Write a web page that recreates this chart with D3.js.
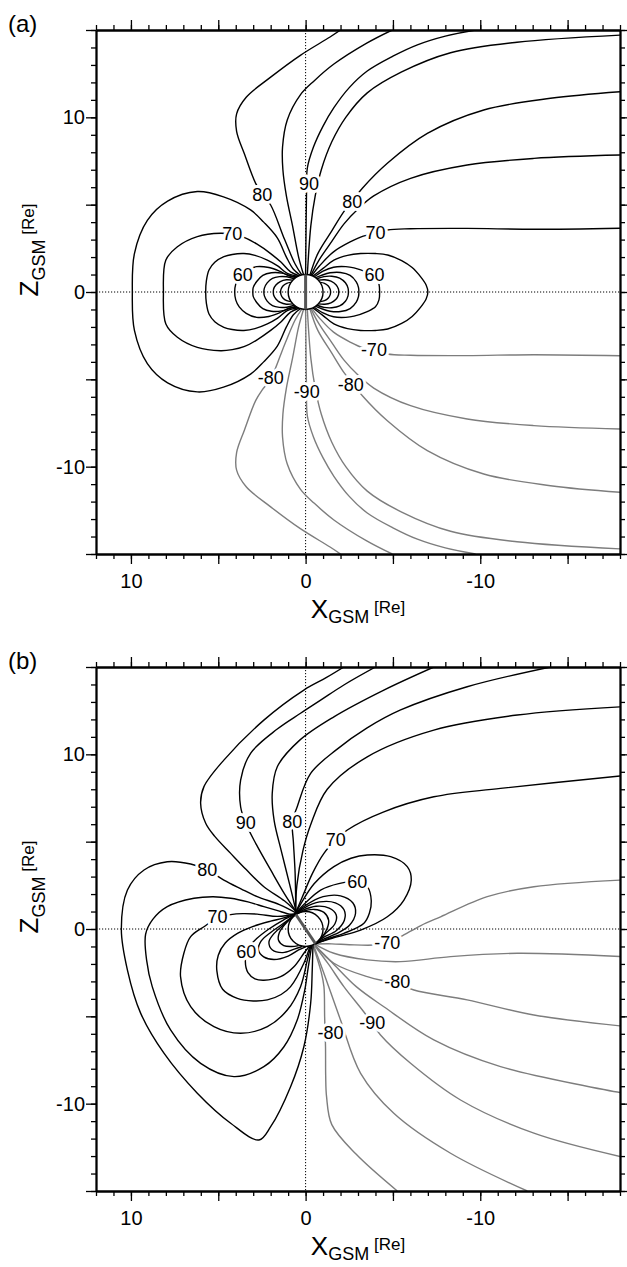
<!DOCTYPE html>
<html><head><meta charset="utf-8">
<script src="https://cdn.jsdelivr.net/npm/d3@7"></script>
<style>
body{margin:0;background:#fff;}
svg{display:block;font-family:"Liberation Sans",Arial,Helvetica,sans-serif;}
</style></head><body>
<svg id="chart" width="627" height="1267"></svg>
<script>
// ---------- axes / tick data ----------
const xDomain = [12, -18];
const zDomain = [15, -15];
const xTickLabels = [10, 0, -10];
const zTickLabels = [10, 0, -10];
const majorX = [-15, -10, -5, 0, 5, 10];
const majorZ = [-15, -10, -5, 0, 5, 10, 15];
const panelNames = ["(a)", "(b)"];

// ---------- panel (a): closed field lines (black) ----------
const aClosedDay = [
 [[0.3,0.96],[0.7,1.3],[1.1,2.0],[1.62,3.1],[2.4,4.0],[3.15,4.7],[4.7,5.45],[6.2,5.75],[7.9,5.2],[9.06,4.1],[9.8,2.2],[9.92,0],[9.8,-2.2],[9.06,-4.1],[7.9,-5.2],[6.2,-5.72],[4.7,-5.45],[3.15,-4.7],[2.4,-4.0],[1.62,-3.1],[1.1,-2.0],[0.7,-1.3],[0.3,-0.96]],
 [[0.38,0.93],[0.86,1.15],[1.4,1.7],[2.0,2.2],[2.8,2.75],[3.53,3.13],[4.2,3.3],[4.87,3.36],[6.2,3.17],[7.34,2.59],[8.0,1.83],[8.14,0],[8.0,-1.83],[7.34,-2.59],[6.2,-3.17],[4.87,-3.36],[4.2,-3.3],[3.53,-3.13],[2.8,-2.75],[2.0,-2.2],[1.4,-1.7],[0.86,-1.15],[0.38,-0.93]],
 [[0.44,0.9],[1.05,1.07],[1.6,1.5],[2.19,1.83],[2.9,2.1],[3.53,2.2],[4.2,2.15],[4.68,2.02],[5.2,1.7],[5.53,1.26],[5.68,0.65],[5.72,0],[5.68,-0.65],[5.53,-1.26],[5.2,-1.7],[4.68,-2.02],[4.2,-2.15],[3.53,-2.2],[2.9,-2.1],[2.19,-1.83],[1.6,-1.5],[1.05,-1.07],[0.44,-0.9]],
 [[0.5,0.87],[0.95,0.93],[1.5,1.2],[2.1,1.4],[2.8,1.45],[3.4,1.22],[3.8,0.85],[4.0,0.45],[4.06,0],[4.0,-0.45],[3.8,-0.85],[3.4,-1.22],[2.8,-1.45],[2.1,-1.4],[1.5,-1.2],[0.95,-0.93],[0.5,-0.87]],
 [[0.58,0.82],[0.9,0.93],[1.36,1.08],[1.96,1.1],[2.45,0.95],[2.8,0.6],[3.0,0.25],[3.02,0],[3.0,-0.25],[2.8,-0.6],[2.45,-0.95],[1.96,-1.1],[1.36,-1.08],[0.9,-0.93],[0.58,-0.82]],
 [[0.65,0.76],[1.07,0.87],[1.5,0.88],[1.9,0.78],[2.2,0.52],[2.36,0.22],[2.39,0],[2.36,-0.22],[2.2,-0.52],[1.9,-0.78],[1.5,-0.88],[1.07,-0.87],[0.65,-0.76]],
 [[0.73,0.68],[1.1,0.7],[1.45,0.6],[1.7,0.4],[1.83,0.17],[1.85,0],[1.83,-0.17],[1.7,-0.4],[1.45,-0.6],[1.1,-0.7],[0.73,-0.68]],
 [[0.84,0.55],[1.08,0.5],[1.3,0.34],[1.41,0.15],[1.43,0],[1.41,-0.15],[1.3,-0.34],[1.08,-0.5],[0.84,-0.55]]
];
const aClosedNight = [
 [[-0.42,0.91],[-1.0,1.35],[-1.62,1.83],[-2.4,2.1],[-3.15,2.2],[-4.0,2.2],[-4.7,2.12],[-5.5,1.8],[-6.1,1.4],[-6.6,0.85],[-6.9,0.4],[-7.0,0],[-6.9,-0.4],[-6.6,-0.85],[-6.1,-1.4],[-5.5,-1.8],[-4.7,-2.12],[-4.0,-2.2],[-3.15,-2.2],[-2.4,-2.1],[-1.62,-1.83],[-1.0,-1.35],[-0.42,-0.91]],
 [[-0.5,0.87],[-1.0,1.2],[-1.6,1.42],[-2.3,1.45],[-2.77,1.38],[-3.53,1.12],[-4.0,0.85],[-4.2,0.45],[-4.24,0],[-4.2,-0.45],[-4.0,-0.85],[-3.53,-1.12],[-2.77,-1.38],[-2.3,-1.45],[-1.6,-1.42],[-1.0,-1.2],[-0.5,-0.87]],
 [[-0.58,0.82],[-0.9,0.95],[-1.4,1.1],[-2.0,1.12],[-2.55,0.95],[-2.9,0.58],[-3.03,0.25],[-3.05,0],[-3.03,-0.25],[-2.9,-0.58],[-2.55,-0.95],[-2.0,-1.12],[-1.4,-1.1],[-0.9,-0.95],[-0.58,-0.82]],
 [[-0.65,0.76],[-1.05,0.88],[-1.5,0.9],[-1.95,0.8],[-2.28,0.53],[-2.43,0.22],[-2.45,0],[-2.43,-0.22],[-2.28,-0.53],[-1.95,-0.8],[-1.5,-0.9],[-1.05,-0.88],[-0.65,-0.76]],
 [[-0.73,0.68],[-1.1,0.7],[-1.45,0.62],[-1.74,0.42],[-1.88,0.17],[-1.9,0],[-1.88,-0.17],[-1.74,-0.42],[-1.45,-0.62],[-1.1,-0.7],[-0.73,-0.68]],
 [[-0.84,0.55],[-1.08,0.5],[-1.3,0.34],[-1.41,0.15],[-1.43,0],[-1.41,-0.15],[-1.3,-0.34],[-1.08,-0.5],[-0.84,-0.55]]
];
// panel (a): open lines, northern (black)
const aOpenNorth = [
 [[0.22,0.98],[0.6,1.6],[1.2,3.0],[2.0,4.98],[2.48,5.6],[2.86,6.22],[3.5,7.9],[3.95,9.2],[3.95,10.2],[3.4,11.15],[2.0,12.3],[0.3,13.55],[-1.4,14.6],[-2.0,15.0]],
 [[0.12,1.0],[0.4,2.0],[0.75,3.8],[1.1,5.5],[1.3,7.0],[1.32,8.3],[1.05,9.85],[0.29,11.3],[-0.5,12.1],[-1.62,13.05],[-3.5,14.25],[-4.96,15.0]],
 [[0.0,1.0],[-0.02,3.0],[-0.05,5.5],[-0.1,7.1],[-0.45,8.3],[-1.0,9.5],[-1.62,10.55],[-2.5,11.7],[-3.53,12.65],[-5.0,13.5],[-6.4,14.15],[-8.0,14.65],[-9.73,15.0]],
 [[-0.1,1.0],[-0.3,3.8],[-0.55,5.5],[-0.9,7.0],[-1.5,8.6],[-2.3,10.0],[-3.53,11.4],[-5.5,12.6],[-8.3,13.7],[-12.1,14.3],[-18.03,14.71]],
 [[-0.25,0.97],[-0.7,2.2],[-1.5,3.5],[-2.19,4.6],[-2.67,5.2],[-3.25,5.94],[-4.68,7.37],[-6.97,9.08],[-10.2,10.42],[-14.02,11.09],[-18.03,11.47]],
 [[-0.3,0.95],[-0.75,1.8],[-1.5,2.9],[-2.2,3.9],[-3.0,4.75],[-3.9,5.5],[-6.01,6.51],[-9.25,7.27],[-13.07,7.65],[-18.03,7.84]],
 [[-0.35,0.94],[-0.8,1.5],[-1.6,2.3],[-2.58,2.88],[-3.3,3.2],[-4.0,3.36],[-4.68,3.55],[-6.0,3.62],[-9.25,3.64],[-13.07,3.59],[-18.03,3.65]]
];
// panel (a): open lines, southern (grey)
const aOpenSouth = [
 [[0.22,-0.98],[0.6,-1.6],[1.2,-3.0],[2.0,-4.98],[2.48,-5.6],[2.86,-6.22],[3.5,-7.9],[3.95,-9.2],[3.95,-10.2],[3.4,-11.15],[2.0,-12.3],[0.3,-13.55],[-1.4,-14.6],[-2.0,-15.0]],
 [[0.12,-1.0],[0.4,-2.0],[0.75,-3.8],[1.1,-5.5],[1.3,-7.0],[1.32,-8.3],[1.05,-9.85],[0.29,-11.3],[-0.5,-12.1],[-1.62,-13.05],[-3.5,-14.25],[-4.96,-15.0]],
 [[0.0,-1.0],[-0.02,-3.0],[-0.05,-5.5],[-0.1,-7.1],[-0.45,-8.3],[-1.0,-9.5],[-1.62,-10.55],[-2.5,-11.7],[-3.53,-12.65],[-5.0,-13.5],[-6.4,-14.15],[-8.0,-14.65],[-9.73,-15.0]],
 [[-0.1,-1.0],[-0.3,-3.8],[-0.55,-5.5],[-0.9,-7.0],[-1.5,-8.6],[-2.3,-10.0],[-3.53,-11.4],[-5.5,-12.6],[-8.3,-13.7],[-12.1,-14.3],[-18.03,-14.71]],
 [[-0.25,-0.97],[-0.7,-2.2],[-1.5,-3.5],[-2.19,-4.6],[-2.67,-5.2],[-3.25,-5.94],[-4.68,-7.37],[-6.97,-9.08],[-10.2,-10.42],[-14.02,-11.09],[-18.03,-11.47]],
 [[-0.3,-0.95],[-0.75,-1.8],[-1.5,-2.9],[-2.2,-3.9],[-3.0,-4.75],[-3.9,-5.5],[-6.01,-6.51],[-9.25,-7.27],[-13.07,-7.65],[-18.03,-7.84]],
 [[-0.35,-0.94],[-0.8,-1.5],[-1.6,-2.3],[-2.58,-2.88],[-3.3,-3.2],[-4.0,-3.36],[-4.68,-3.55],[-6.0,-3.62],[-9.25,-3.64],[-13.07,-3.59],[-18.03,-3.65]]
];
const aLabels = [["80",2.48,5.55],["90",-0.2,6.2],["80",-2.67,5.17],["70",4.2,3.3],["70",-4.0,3.36],["60",3.6,0.97],["60",-3.95,0.95],["-80",2.0,-4.94],["-90",-0.06,-5.7],["-80",-2.58,-5.32],["-70",-3.91,-3.32]];
const aDipoleAxis = [[0,1],[0,-1]];

// ---------- panel (b) ----------
const bClosedDay = [
 [[0.5,0.9],[1.5,1.4],[2.77,1.85],[3.7,2.3],[4.68,2.8],[5.63,3.38],[6.58,3.72],[7.92,3.85],[9.25,3.38],[10.2,2.23],[10.55,0.0],[10.2,-2.35],[9.44,-4.83],[8.11,-7.11],[6.2,-9.4],[4.29,-11.12],[2.67,-12.08],[2.0,-11.32],[0.86,-9.03],[0.1,-6.74],[-0.29,-4.25],[-0.38,-2.35],[-0.42,-0.92]],
 [[0.52,0.88],[0.9,0.85],[1.6,1.05],[2.39,1.28],[3.3,1.55],[4.29,1.76],[5.3,1.85],[6.39,1.76],[7.92,1.28],[8.75,0.55],[9.16,-0.3],[9.1,-1.8],[8.78,-3.3],[7.73,-5.78],[6.01,-7.69],[4.1,-8.45],[2.39,-7.88],[1.24,-6.74],[0.48,-5.21],[0.05,-3.5],[-0.15,-2.2],[-0.35,-0.95]],
 [[0.55,0.87],[1.0,0.78],[1.62,0.72],[2.77,0.85],[3.6,0.88],[4.29,0.82],[5.05,0.62],[5.82,0.13],[6.58,-0.44],[6.97,-1.39],[7.16,-2.73],[6.58,-4.45],[5.25,-5.59],[3.72,-5.97],[2.19,-5.59],[1.05,-4.64],[0.29,-3.3],[-0.1,-1.77],[-0.3,-0.97]],
 [[0.57,0.86],[1.3,0.62],[2.0,0.45],[3.0,0.15],[3.9,-0.25],[4.6,-0.8],[5.0,-1.5],[5.08,-2.4],[4.75,-3.45],[3.91,-3.97],[3.0,-4.12],[2.19,-4.06],[1.4,-3.75],[0.86,-3.3],[0.1,-1.96],[-0.25,-0.98]],
 [[0.58,0.85],[1.3,0.5],[2.1,0.0],[2.8,-0.55],[3.3,-1.1],[3.45,-1.85],[3.3,-2.5],[2.9,-2.85],[2.39,-2.93],[1.43,-2.73],[0.67,-2.16],[0.1,-1.39],[-0.2,-1.0]],
 [[0.6,0.83],[1.3,0.3],[2.0,-0.2],[2.55,-0.7],[2.7,-1.2],[2.4,-1.6],[1.81,-1.75],[1.0,-1.55],[0.4,-1.2],[0.0,-1.02]],
 [[0.62,0.81],[1.25,0.25],[1.8,-0.25],[2.1,-0.75],[1.9,-1.2],[1.3,-1.35],[0.65,-1.15],[0.2,-1.0]],
 [[0.65,0.79],[1.15,0.3],[1.5,-0.2],[1.55,-0.65],[1.25,-0.95],[0.8,-1.0],[0.4,-0.95]]
];
const bClosedNight = [
 [[0.6,0.85],[0.3,1.4],[-0.5,2.6],[-1.62,3.57],[-2.6,4.05],[-3.53,4.24],[-4.87,4.14],[-5.82,3.57],[-6.05,2.8],[-5.63,1.66],[-4.68,0.7],[-3.15,-0.06],[-1.8,-0.45],[-0.9,-0.72],[-0.55,-0.86]],
 [[0.62,0.84],[0.0,1.5],[-0.86,2.23],[-1.9,2.6],[-2.96,2.71],[-3.55,2.4],[-3.76,1.6],[-3.65,0.9],[-3.34,0.33],[-2.19,-0.25],[-1.3,-0.55],[-0.57,-0.85]],
 [[0.63,0.83],[0.0,1.35],[-1.0,1.85],[-2.0,1.9],[-2.7,1.5],[-2.86,0.9],[-2.5,0.2],[-1.7,-0.3],[-1.0,-0.6],[-0.58,-0.84]],
 [[0.64,0.81],[0.1,1.2],[-0.8,1.55],[-1.7,1.5],[-2.2,1.1],[-2.22,0.5],[-1.75,-0.1],[-1.0,-0.5],[-0.6,-0.82]],
 [[0.65,0.8],[0.15,1.08],[-0.6,1.3],[-1.35,1.2],[-1.75,0.82],[-1.68,0.3],[-1.15,-0.25],[-0.62,-0.8]],
 [[0.66,0.78],[0.2,1.0],[-0.5,1.12],[-1.05,0.95],[-1.32,0.5],[-1.22,0.0],[-0.92,-0.5],[-0.65,-0.78]]
];
const bOpenNorth = [
 [[0.45,0.9],[1.2,1.6],[2.39,2.42],[3.4,3.4],[4.29,4.33],[5.2,5.3],[5.72,6.05],[6.01,7.2],[5.82,8.15],[4.68,9.67],[2.39,11.96],[0.1,13.68],[-1.2,14.4],[-2.19,15.0]],
 [[0.48,0.9],[1.2,2.0],[2.0,3.38],[2.8,4.8],[3.43,6.05],[3.72,7.0],[3.72,8.53],[3.15,10.06],[1.62,11.45],[0.29,12.35],[-0.86,13.1],[-2.19,13.97],[-4.0,15.0]],
 [[0.52,0.9],[0.9,2.5],[1.4,4.5],[1.8,6.2],[1.91,7.77],[1.62,9.29],[0.35,10.8],[-1.62,12.15],[-4.48,13.68],[-7.34,15.0]],
 [[0.56,0.88],[0.6,3.2],[0.7,5.0],[0.76,6.14],[0.48,7.0],[-0.29,8.91],[-1.81,10.3],[-3.5,11.5],[-5.44,12.54],[-9.25,13.87],[-14.02,15.0]],
 [[0.58,0.87],[0.5,2.5],[0.15,4.5],[-0.3,6.0],[-1.24,8.0],[-3.53,9.86],[-7.34,11.39],[-12.12,12.25],[-18.03,12.72]],
 [[0.6,0.86],[0.2,1.8],[-0.4,3.2],[-1.05,4.33],[-1.72,5.09],[-2.39,5.67],[-4.48,6.71],[-7.34,7.57],[-11.16,8.05],[-18.03,8.76]]
];
const bOpenSouth = [
 [[-0.55,-0.86],[-1.5,-0.85],[-2.5,-0.9],[-3.9,-0.92],[-4.68,-0.8],[-5.44,-0.44],[-6.6,0.2],[-7.73,0.7],[-10.4,1.85],[-13.07,2.42],[-18.03,2.8]],
 [[-0.55,-0.88],[-1.62,-1.39],[-3.53,-1.77],[-5.44,-1.87],[-8.3,-1.58],[-12.12,-1.39],[-18.03,-1.58]],
 [[-0.52,-0.9],[-1.62,-1.96],[-3.53,-2.73],[-4.5,-2.97],[-5.25,-3.1],[-6.2,-3.49],[-9.25,-4.06],[-13.07,-4.92],[-18.03,-5.55]],
 [[-0.5,-0.9],[-1.5,-1.9],[-2.9,-3.3],[-4.48,-4.45],[-7.34,-6.35],[-11.16,-7.88],[-18.03,-9.37]],
 [[-0.48,-0.9],[-1.3,-2.0],[-2.19,-3.3],[-3.25,-4.64],[-3.82,-5.4],[-4.29,-6.07],[-6.01,-7.69],[-8.87,-9.79],[-13.07,-11.69],[-18.03,-13.03]],
 [[-0.45,-0.92],[-1.0,-2.4],[-2.0,-5.21],[-3.15,-8.26],[-5.05,-10.55],[-8.3,-12.84],[-12.69,-15.0]],
 [[-0.42,-0.93],[-0.9,-2.5],[-1.05,-3.3],[-1.09,-5.02],[-1.14,-6.74],[-1.15,-8.4],[-1.2,-9.6],[-1.5,-11.2],[-2.9,-12.9],[-5.25,-15.0]]
];
const bLabels = [["90",3.43,6.05],["80",0.76,6.14],["70",-1.72,5.09],["60",-2.96,2.71],["80",5.63,3.38],["70",5.05,0.67],["60",3.4,-1.3],["-70",-4.68,-0.82],["-80",-5.25,-3.05],["-90",-3.82,-5.4],["-80",-1.43,-5.93]];
const bDipoleAxis = [[0.56,0.83],[-0.56,-0.83]];

// ---------- drawing ----------
const svg = d3.select("#chart");
const LEFT = 96, RIGHT = 620, SIZE = 524;
const BLACK = "#000", GREY = "#7d7d7d";

function drawPanel(idx, top, closed, openN, openS, labels, dipoleAxis) {
  const x = d3.scaleLinear().domain(xDomain).range([LEFT, RIGHT]);
  const z = d3.scaleLinear().domain(zDomain).range([top, top + SIZE]);
  const clipId = "clip" + idx;
  svg.append("clipPath").attr("id", clipId).append("rect")
    .attr("x", LEFT).attr("y", top).attr("width", SIZE).attr("height", SIZE);
  const plot = svg.append("g").attr("clip-path", `url(#${clipId})`);

  // dotted zero lines
  plot.append("line").attr("x1", x(0)).attr("x2", x(0)).attr("y1", top).attr("y2", top + SIZE)
    .attr("stroke", BLACK).attr("stroke-width", 1).attr("stroke-dasharray", "1.2,1.8");
  plot.append("line").attr("x1", LEFT).attr("x2", RIGHT).attr("y1", z(0)).attr("y2", z(0))
    .attr("stroke", BLACK).attr("stroke-width", 1).attr("stroke-dasharray", "1.2,1.8");

  const line = d3.line().x(d => x(d[0])).y(d => z(d[1])).curve(d3.curveCatmullRom.alpha(0.5));

  plot.selectAll("path.grey").data(openS).join("path").attr("class", "grey")
    .attr("d", line).attr("fill", "none").attr("stroke", GREY).attr("stroke-width", 1.4);
  plot.selectAll("path.blk").data(closed.concat(openN)).join("path").attr("class", "blk")
    .attr("d", line).attr("fill", "none").attr("stroke", BLACK).attr("stroke-width", 1.4);

  // Earth
  plot.append("circle").attr("cx", x(0)).attr("cy", z(0)).attr("r", x(0) - x(1))
    .attr("fill", "none").attr("stroke", BLACK).attr("stroke-width", 1.4);
  plot.append("path").attr("d", d3.line().x(d => x(d[0])).y(d => z(d[1]))(dipoleAxis))
    .attr("stroke", "#555").attr("stroke-width", 3).attr("fill", "none");

  // contour labels
  plot.selectAll("text.lab").data(labels).join("text").attr("class", "lab")
    .attr("x", d => x(d[1])).attr("y", d => z(d[2]))
    .attr("text-anchor", "middle").attr("dominant-baseline", "central")
    .attr("font-size", 18).attr("fill", BLACK)
    .attr("stroke", "#fff").attr("stroke-width", 6).attr("paint-order", "stroke")
    .attr("stroke-linejoin", "round")
    .text(d => d[0]);

  // axes
  const minorX = d3.range(-18, 13, 1), minorZ = d3.range(-15, 16, 1);
  const fmtX = d => xTickLabels.includes(d) ? String(d) : "";
  const fmtZ = d => zTickLabels.includes(d) ? String(d) : "";
  const ax = [
    [d3.axisBottom(x).tickValues(minorX).tickSize(5).tickFormat(""), `translate(0,${top + SIZE})`],
    [d3.axisBottom(x).tickValues(majorX).tickSize(10).tickPadding(10).tickFormat(fmtX), `translate(0,${top + SIZE})`],
    [d3.axisTop(x).tickValues(minorX).tickSize(5).tickFormat(""), `translate(0,${top})`],
    [d3.axisTop(x).tickValues(majorX).tickSize(10).tickFormat(""), `translate(0,${top})`],
    [d3.axisLeft(z).tickValues(minorZ).tickSize(5).tickFormat(""), `translate(${LEFT},0)`],
    [d3.axisLeft(z).tickValues(majorZ).tickSize(10).tickPadding(1).tickFormat(fmtZ), `translate(${LEFT},0)`],
    [d3.axisRight(z).tickValues(minorZ).tickSize(5).tickFormat(""), `translate(${RIGHT},0)`],
    [d3.axisRight(z).tickValues(majorZ).tickSize(10).tickFormat(""), `translate(${RIGHT},0)`]
  ];
  ax.forEach(([a, tr]) => {
    const g = svg.append("g").attr("transform", tr).call(a.tickSizeOuter(0));
    g.attr("font-family", null).attr("font-size", null);
    g.select(".domain").attr("stroke-width", 1.8).attr("stroke", BLACK);
    g.selectAll(".tick line").attr("stroke-width", 1.3).attr("stroke", BLACK);
    g.selectAll(".tick text").attr("font-size", 20).attr("fill", BLACK);
  });

  // axis titles
  const xt = svg.append("text").attr("x", (LEFT + RIGHT) / 2).attr("y", top + SIZE + 64)
    .attr("text-anchor", "middle").attr("font-size", 26).attr("fill", BLACK);
  xt.append("tspan").text("X");
  xt.append("tspan").attr("font-size", 18).attr("dy", 5).text("GSM");
  xt.append("tspan").attr("font-size", 17).attr("dy", -10).text(" [Re]");

  const cy = top + 220;
  const yt = svg.append("text").attr("transform", `translate(38,${cy}) rotate(-90)`)
    .attr("text-anchor", "middle").attr("font-size", 26).attr("fill", BLACK);
  yt.append("tspan").text("Z");
  yt.append("tspan").attr("font-size", 18).attr("dy", 7).text("GSM");
  yt.append("tspan").attr("font-size", 17).attr("dy", -11).text(" [Re]");

  svg.append("text").attr("x", 8).attr("y", top + 2).attr("font-size", 24).attr("fill", BLACK)
    .text(panelNames[idx]);
}

drawPanel(0, 30, aClosedDay.concat(aClosedNight), aOpenNorth, aOpenSouth, aLabels, aDipoleAxis);
drawPanel(1, 667, bClosedDay.concat(bClosedNight), bOpenNorth, bOpenSouth, bLabels, bDipoleAxis);
</script>
</body></html>
